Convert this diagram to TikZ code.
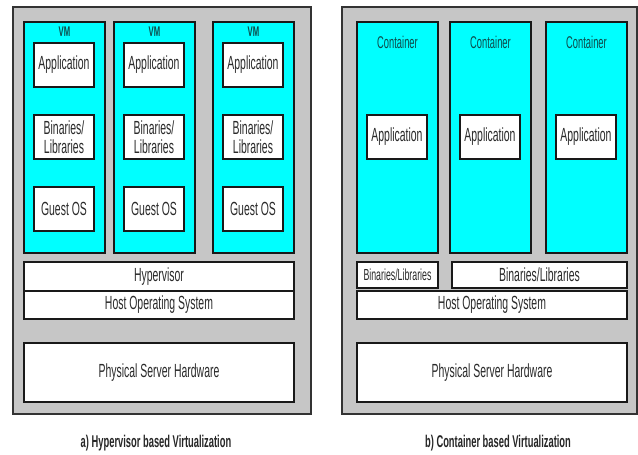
\documentclass[tikz,border=0pt]{standalone}
\usepackage{fontspec}
\setmainfont{Liberation Sans}[FakeStretch=0.55]
\usepackage{tikz}

\definecolor{panelgray}{HTML}{C6C6C6}
\definecolor{guestcyan}{HTML}{00FFFF}
\definecolor{labelteal}{HTML}{0E4A4A}
\definecolor{inktext}{HTML}{2A2A2A}

\begin{document}
\begin{tikzpicture}[
    x=1pt, y=-1pt,
    % grey frame behind each stack
    panel/.style={draw=black!80, fill=panelgray, line width=1.4pt,
        inner sep=0pt},
    % cyan guest / container column
    column/.style={draw=black!90, fill=guestcyan, line width=1.6pt,
        minimum width=81pt, minimum height=231pt, inner sep=0pt},
    % white layer box with a text
    layer/.style={draw=black!90, fill=white, line width=1.6pt,
        inner sep=0pt, text=inktext, font=\fontsize{19}{19}\selectfont,
        align=center},
    colname/.style={text=labelteal, inner sep=0pt},
    caption/.style={text=black!85, font=\fontsize{17}{17}\selectfont\bfseries}
]
\useasboundingbox (0,0) rectangle (638,455);

% --- a) hypervisor stack ---
\node[panel, minimum width=298pt, minimum height=407pt] (frameA) at (162,210.5) {};

\foreach \x [count=\i] in {24,114,213} {
    \node[column] (vm\i) at (\x+40.5,137.5) {};
    \node[colname, font=\fontsize{14}{14}\selectfont\bfseries] (vmname\i)
        at (\x+40.5,32) {VM};
    \node[layer, minimum width=60pt, minimum height=44pt] (app\i)
        at (\x+40,65) {Application};
    \node[layer, minimum width=60pt, minimum height=44pt] (bin\i)
        at (\x+40,137) {Binaries/\\Libraries};
    \node[layer, minimum width=60pt, minimum height=44pt] (guest\i)
        at (\x+40,209) {Guest OS};
}

\node[layer, minimum width=270pt, minimum height=29pt] (hyper) at (159,276.5) {Hypervisor};
\node[layer, minimum width=270pt, minimum height=28pt] (hostA) at (159,305) {Host Operating System};
\node[layer, minimum width=270pt, minimum height=59pt] (hwA) at (159,372.5) {Physical Server Hardware};

\node[caption] (capA) at (156,443) {a) Hypervisor based Virtualization};

% --- b) container stack ---
\node[panel, minimum width=295pt, minimum height=407pt] (frameB) at (489.5,210.5) {};

\foreach \x [count=\i] in {357,450,546} {
    \node[column] (ct\i) at (\x+40.5,137.5) {};
    \node[colname, font=\fontsize{17}{17}\selectfont] (ctname\i)
        at (\x+40.5,42) {Container};
    \node[layer, minimum width=60pt, minimum height=44pt] (ctapp\i)
        at (\x+40,137) {Application};
}

\node[layer, minimum width=81pt, minimum height=26pt,
    font=\fontsize{16}{16}\selectfont] (libs) at (397.5,275) {Binaries/Libraries};
\node[layer, minimum width=175pt, minimum height=26pt] (libsshared) at (539.5,275) {Binaries/Libraries};
\node[layer, minimum width=270pt, minimum height=28pt] (hostB) at (492,305) {Host Operating System};
\node[layer, minimum width=270pt, minimum height=59pt] (hwB) at (492,372.5) {Physical Server Hardware};

\node[caption] (capB) at (498,443) {b) Container based Virtualization};

\end{tikzpicture}
\end{document}
